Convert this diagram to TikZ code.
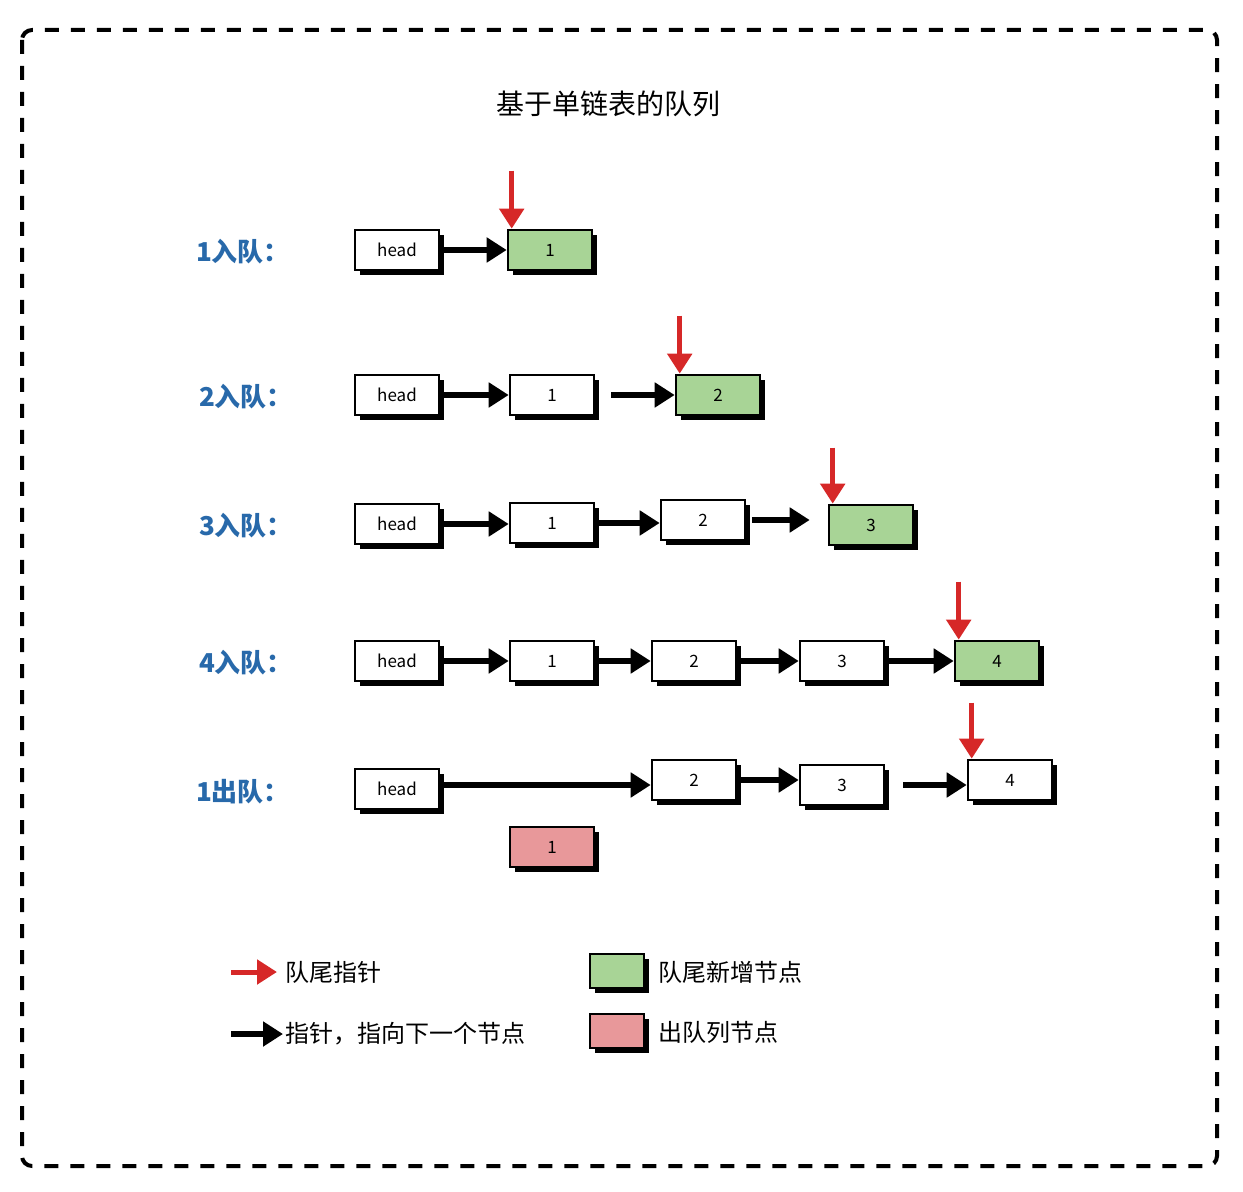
\documentclass[tikz,border=0pt]{standalone}
\usepackage{fontspec}
\setmainfont{Noto Sans CJK SC}
\usetikzlibrary{arrows.meta,shadows}

\definecolor{tailgreen}{RGB}{168,212,150}
\definecolor{outpink}{RGB}{232,152,154}
\definecolor{ptrred}{RGB}{214,40,40}
\definecolor{rowblue}{RGB}{40,105,170}

\tikzset{
  qnode/.style={draw=black, line width=1.3pt, fill=white,
    minimum width=42pt, minimum height=20pt, inner sep=0pt,
    font=\fontsize{8.5}{8.5}\selectfont,
    drop shadow={shadow xshift=2.4pt, shadow yshift=-2.4pt, fill=black, opacity=1}},
  newnode/.style={qnode, fill=tailgreen},
  outnode/.style={qnode, fill=outpink},
  nextptr/.style={line width=2.8pt, -{Triangle[length=10pt,width=12pt]}},
  tailptr/.style={draw=ptrred, line width=2.5pt, -{Triangle[length=10pt,width=12pt,fill=ptrred]}},
  rowlabel/.style={text=rowblue, font=\fontsize{13}{13}\selectfont\bfseries},
  legend/.style={anchor=west, inner sep=0pt, font=\fontsize{12}{12}\selectfont}
}

\begin{document}
\begin{tikzpicture}[x=0.5pt, y=-0.5pt]
  \useasboundingbox (0,0) rectangle (1243,1192);

  % Frame
  \draw[line width=2pt, dash pattern=on 7pt off 6pt, rounded corners=5pt]
    (22,30) rectangle (1217,1166);

  % Title
  \node[font=\fontsize{14}{14}\selectfont] (title) at (608,104) {基于单链表的队列};

  % Row 1
  \node[rowlabel] (l1) at (243,252) {1入队：};
  \node[qnode] (h1) at (397,250) {head};
  \node[newnode] (n11) at (550,250) {1};
  \draw[nextptr] (h1.east) -- (h1.east -| n11.west);
  \draw[tailptr] ([xshift=2.5pt,yshift=29pt]n11.north west) -- ([xshift=2.5pt]n11.north west);

  % Row 2
  \node[rowlabel] (l2) at (246,397) {2入队：};
  \node[qnode] (h2) at (397,395) {head};
  \node[qnode] (n21) at (552,395) {1};
  \node[newnode] (n22) at (718,395) {2};
  \draw[nextptr] (h2.east) -- (h2.east -| n21.west);
  \draw[nextptr, shorten <=8pt] (n21.east) -- (n21.east -| n22.west);
  \draw[tailptr] ([xshift=2.5pt,yshift=29pt]n22.north west) -- ([xshift=2.5pt]n22.north west);

  % Row 3
  \node[rowlabel] (l3) at (246,526) {3入队：};
  \node[qnode] (h3) at (397,524) {head};
  \node[qnode] (n31) at (552,523) {1};
  \node[qnode] (n32) at (703,520) {2};
  \node[newnode] (n33) at (871,525) {3};
  \draw[nextptr] (h3.east) -- (h3.east -| n31.west);
  \draw[nextptr] (n31.east) -- (n31.east -| n32.west);
  \draw[nextptr, shorten <=3pt, shorten >=9pt] (n32.east) -- (n32.east -| n33.west);
  \draw[tailptr] ([xshift=2.5pt,yshift=28pt]n33.north west) -- ([xshift=2.5pt]n33.north west);

  % Row 4
  \node[rowlabel] (l4) at (246,663) {4入队：};
  \node[qnode] (h4) at (397,661) {head};
  \node[qnode] (n41) at (552,661) {1};
  \node[qnode] (n42) at (694,661) {2};
  \node[qnode] (n43) at (842,661) {3};
  \node[newnode] (n44) at (997,661) {4};
  \draw[nextptr] (h4.east) -- (h4.east -| n41.west);
  \draw[nextptr] (n41.east) -- (n41.east -| n42.west);
  \draw[nextptr] (n42.east) -- (n42.east -| n43.west);
  \draw[nextptr] (n43.east) -- (n43.east -| n44.west);
  \draw[tailptr] ([xshift=2.5pt,yshift=29pt]n44.north west) -- ([xshift=2.5pt]n44.north west);

  % Row 5
  \node[rowlabel] (l5) at (243,792) {1出队：};
  \node[qnode] (h5) at (397,789) {head};
  \node[qnode] (n52) at (694,780) {2};
  \node[qnode] (n53) at (842,785) {3};
  \node[qnode] (n54) at (1010,780) {4};
  \node[outnode] (n51) at (552,847) {1};
  \draw[nextptr] ([yshift=2pt]h5.east) -- ([yshift=2pt]h5.east -| n52.west);
  \draw[nextptr] (n52.east) -- (n52.east -| n53.west);
  \draw[nextptr, shorten <=9pt] (n53.east) -- (n53.east -| n54.west);
  \draw[tailptr] ([xshift=2.5pt,yshift=28pt]n54.north west) -- ([xshift=2.5pt]n54.north west);

  % Legend
  \node[legend] (g1) at (285,972) {队尾指针};
  \draw[tailptr] ([xshift=-27pt]g1.west) -- ([xshift=-4pt]g1.west);
  \node[legend] (g2) at (285,1034) {指针，指向下一个节点};
  \draw[nextptr] ([xshift=-27pt]g2.west) -- ([xshift=-1pt]g2.west);
  \node[qnode, newnode, minimum width=27pt, minimum height=17pt] (b1) at (617,971) {};
  \node[legend] (g3) at (658,972) {队尾新增节点};
  \node[qnode, outnode, minimum width=27pt, minimum height=17pt] (b2) at (617,1031) {};
  \node[legend] (g4) at (658,1032) {出队列节点};
\end{tikzpicture}
\end{document}
